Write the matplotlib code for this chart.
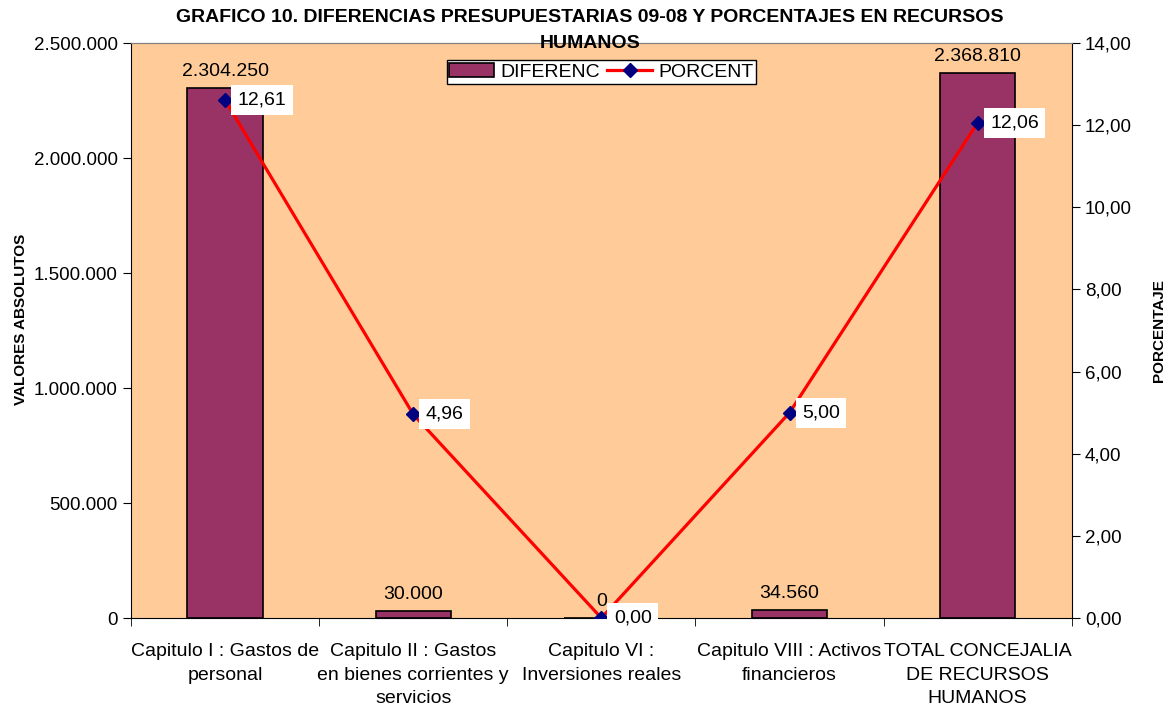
import matplotlib
matplotlib.use("Agg")
import matplotlib.pyplot as plt
from matplotlib.ticker import FuncFormatter, FixedLocator
import numpy as np

plt.rcParams['font.family'] = ['Liberation Sans', 'DejaVu Sans']

# --- data
categorias = ["Capitulo I : Gastos de\npersonal",
              "Capitulo II : Gastos\nen bienes corrientes y\nservicios",
              "Capitulo VI :\nInversiones reales",
              "Capitulo VIII : Activos\nfinancieros",
              "TOTAL CONCEJALIA\nDE RECURSOS\nHUMANOS"]
diferenc = [2304250, 30000, 0, 34560, 2368810]
porcent = [12.61, 4.96, 0.00, 5.00, 12.06]
titulo = ['GRAFICO 10. DIFERENCIAS PRESUPUESTARIAS 09-08 Y PORCENTAJES EN RECURSOS',
          'HUMANOS']


def miles(v, pos=None):
    return '{:,.0f}'.format(v).replace(',', '.')


def coma(v, pos=None):
    return '{:.2f}'.format(v).replace('.', ',')


fig = plt.figure(figsize=(11.7, 7.06), dpi=100)
ax = fig.add_axes([0.112, 0.1246, 0.804, 0.8144])
ax.set_facecolor('#FFCC99')
ax2 = ax.twinx()

x = np.arange(len(categorias))
bars = ax.bar(x, diferenc, width=0.4, color='#993366', edgecolor='black',
              linewidth=1.2, label='DIFERENC', zorder=2)
ax.bar_label(bars, labels=[miles(v) for v in diferenc], padding=6, fontsize=14)

ln, = ax2.plot(x, porcent, color='red', lw=2.3, marker='D', markersize=7.5,
               markerfacecolor='#000080', markeredgecolor='#000080',
               label='PORCENT', zorder=3)
for xi, p in zip(x, porcent):
    ax2.annotate(coma(p), (xi, p), xytext=(9, 0), textcoords='offset points',
                 va='center', ha='left', fontsize=14,
                 bbox=dict(boxstyle='square,pad=0.33', fc='white', ec='none'))

ax.set_xlim(-0.5, len(categorias) - 0.5)
ax.set_ylim(0, 2500000)
ax2.set_ylim(0, 14)
ax.yaxis.set_major_locator(FixedLocator(np.arange(0, 2500001, 500000)))
ax.yaxis.set_major_formatter(FuncFormatter(miles))
ax2.yaxis.set_major_locator(FixedLocator(np.arange(0, 14.1, 2)))
ax2.yaxis.set_major_formatter(FuncFormatter(coma))

ax.set_xticks(x)
ax.set_xticklabels(categorias, fontsize=14, linespacing=1.5)
ax.tick_params(axis='x', which='major', length=0, pad=18)
ax.set_xticks(np.arange(-0.5, len(categorias)), minor=True)
ax.tick_params(axis='x', which='minor', length=6, direction='out')
ax.tick_params(axis='y', labelsize=13.5, length=6)
ax2.tick_params(axis='y', labelsize=13.5, length=6)

for a in (ax, ax2):
    a.spines['top'].set_color('#808080')
ax.spines['right'].set_visible(False)
ax2.spines['left'].set_visible(False)
ax2.spines['bottom'].set_visible(False)

ax.set_ylabel('VALORES ABSOLUTOS', fontsize=11, fontweight='bold')
ax.yaxis.set_label_coords(-0.11, 0.52)
ax2.set_ylabel('PORCENTAJE', fontsize=11, fontweight='bold', rotation=90)
ax2.yaxis.set_label_coords(1.085, 0.5)

# title in two lines, the second one sits on the plot border like the original
fig.text(0.504, 1 - 18 / 706, titulo[0], ha='center', va='center',
         fontsize=14, fontweight='bold')
fig.text(0.504, 1 - 44 / 706, titulo[1], ha='center', va='center',
         fontsize=14, fontweight='bold', zorder=5)

leg = ax2.legend([bars, ln], ['DIFERENC', 'PORCENT'], ncol=2, loc='upper center',
                 bbox_to_anchor=(0.5, 0.97), fontsize=14, frameon=True, fancybox=False,
                 edgecolor='black', framealpha=1, handlelength=2.3, handletextpad=0.3,
                 columnspacing=0.4, borderpad=0.15, borderaxespad=0)
leg.get_frame().set_linewidth(1)

fig.savefig('out.png', dpi=100, facecolor='white')
